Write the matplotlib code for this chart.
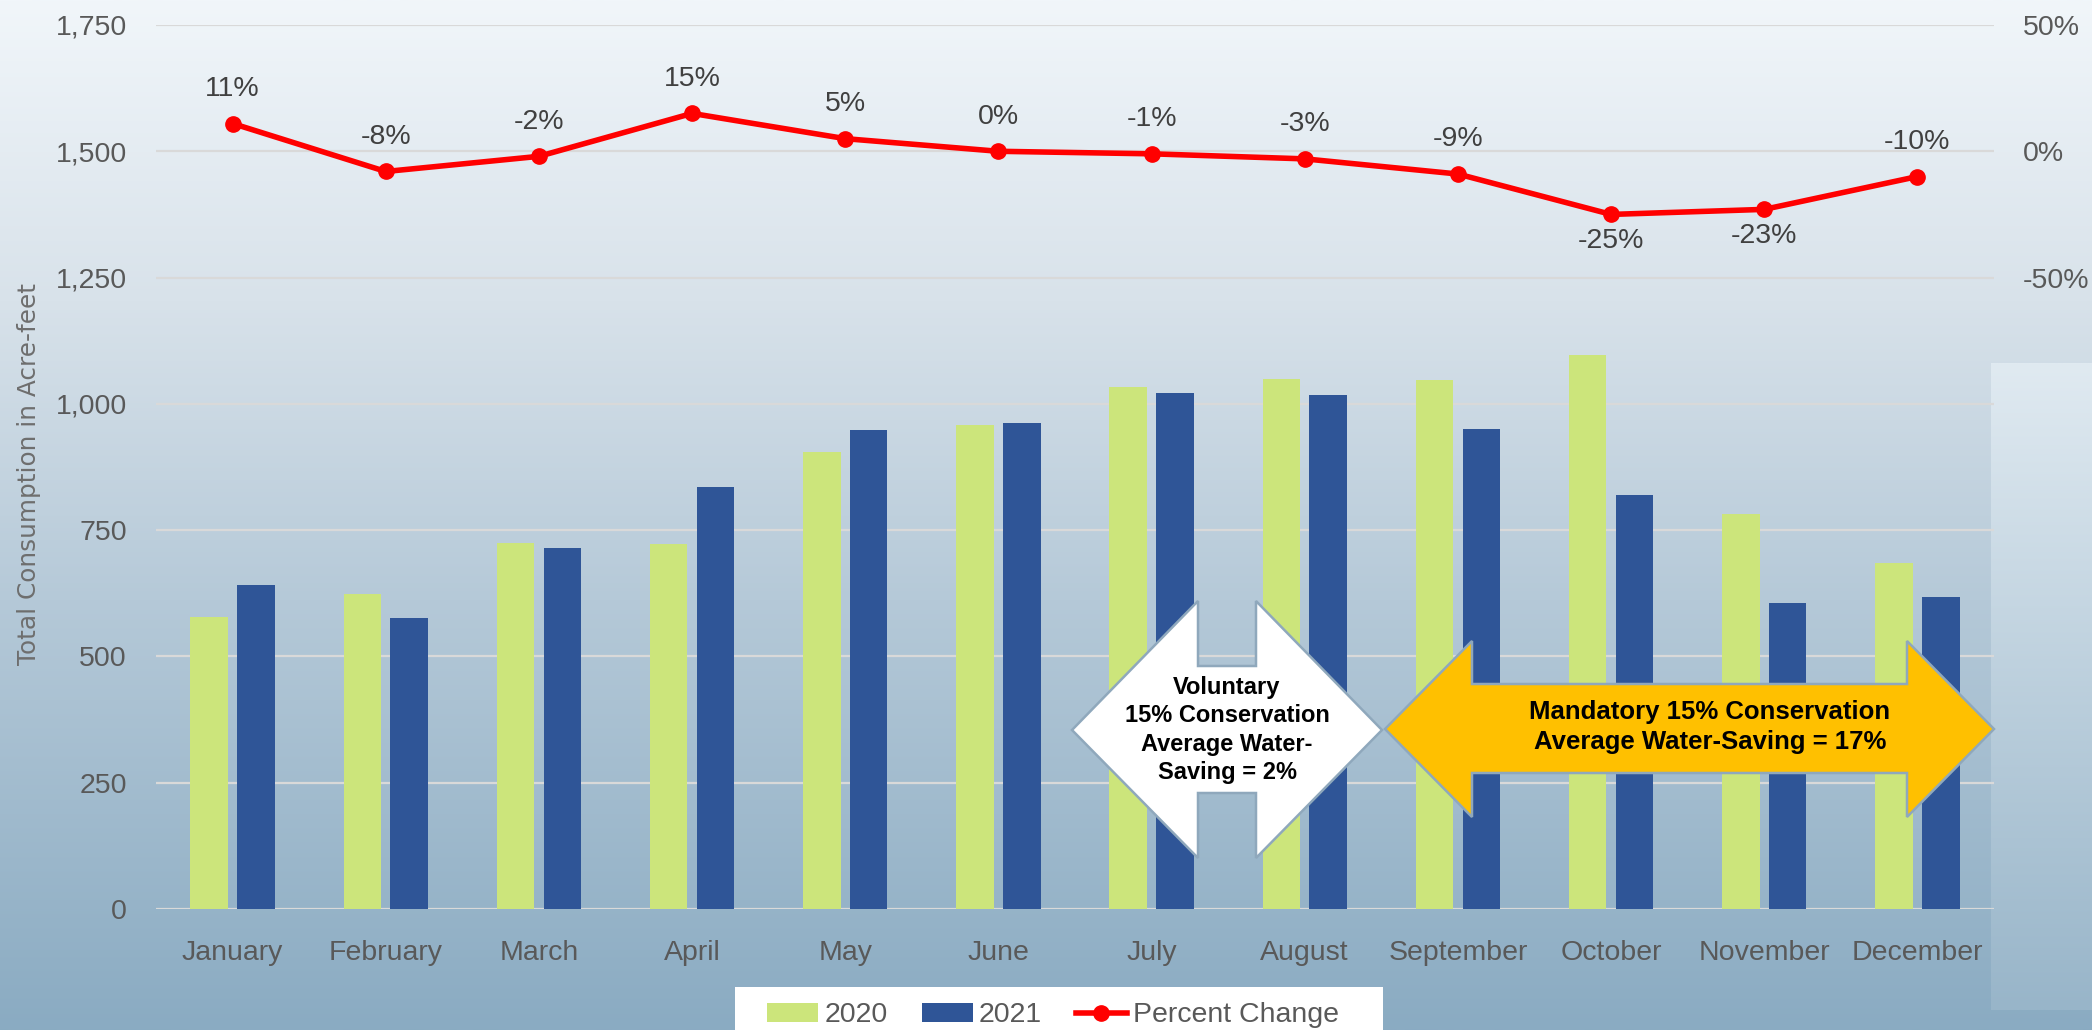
import numpy as np
import matplotlib
matplotlib.use("Agg")
import matplotlib.pyplot as plt
from matplotlib.patches import Polygon, Patch, Rectangle
from matplotlib.lines import Line2D
from matplotlib.colors import LinearSegmentedColormap

# ---------------- data ----------------
months = ["January", "February", "March", "April", "May", "June", "July",
          "August", "September", "October", "November", "December"]
use_2020 = [579, 624, 724, 722, 904, 959, 1033, 1049, 1047, 1097, 782, 684]
use_2021 = [642, 577, 714, 835, 949, 962, 1022, 1018, 951, 820, 605, 617]
pct_change = [11, -8, -2, 15, 5, 0, -1, -3, -9, -25, -23, -10]
left_ticks = [0, 250, 500, 750, 1000, 1250, 1500, 1750]
right_ticks = [-50, 0, 50]

W, H = 2092, 1030
DPI = 100
GREEN = "#CCE57B"
BLUE = "#2F5597"
RED = "#FF0000"
TICK_C = "#595959"
FONT = ["Liberation Sans", "DejaVu Sans"]

plt.rcParams["font.family"] = FONT

fig = plt.figure(figsize=(W / DPI, H / DPI), dpi=DPI)

# ---------------- background gradient ----------------
bg = fig.add_axes([0, 0, 1, 1], zorder=-10)
bg.axis("off")
stops_y = np.array([0, 300, 600, 1030]) / 1030
stops_c = np.array([(241, 246, 250), (216, 226, 234), (181, 201, 216), (138, 171, 194)]) / 255
cmap_bg = LinearSegmentedColormap.from_list("bg", list(zip(stops_y, stops_c)))
grad = np.linspace(0, 1, 512).reshape(-1, 1)
bg.imshow(grad, cmap=cmap_bg, aspect="auto", extent=(0, W, H, 0), interpolation="bicubic")
# lighter side panel on the right
cmap_panel = LinearSegmentedColormap.from_list(
    "panel", [(224 / 255, 234 / 255, 241 / 255), (152 / 255, 181 / 255, 201 / 255)])
bg.imshow(grad, cmap=cmap_panel, aspect="auto", extent=(1991, W, 1010, 363), interpolation="bicubic")
bg.set_xlim(0, W)
bg.set_ylim(H, 0)

# ---------------- main axes ----------------
L, R, T, B = 156, 1994, 25, 909
ax = fig.add_axes([L / W, 1 - B / H, (R - L) / W, (B - T) / H])
ax.set_facecolor("none")
x = np.arange(len(months))
bw = 0.245
off = 0.153
ax.bar(x - off, use_2020, width=bw, color=GREEN, zorder=2)
ax.bar(x + off, use_2021, width=bw, color=BLUE, zorder=2)
ax.set_xlim(-0.5, len(months) - 0.5)
ax.set_ylim(0, 1750)
ax.set_yticks(left_ticks)
ax.set_yticklabels([f"{v:,}" for v in left_ticks])
ax.set_xticks(x)
ax.set_xticklabels(months)
ax.yaxis.grid(True, color="#D9D9D9", lw=1.6, zorder=0)
ax.set_axisbelow(True)
for s in ax.spines.values():
    s.set_visible(False)
ax.tick_params(axis="y", length=0, pad=21, labelsize=20.5, labelcolor=TICK_C)
ax.tick_params(axis="x", length=0, pad=22, labelsize=20.5, labelcolor=TICK_C)

fig.text(29 / W, 1 - 474 / H, "Total Consumption in Acre-feet", rotation=90,
         ha="center", va="center", fontsize=17.8, color="#6E6E6E",
         family=["DejaVu Sans"])

# ---------------- percent change line ----------------
ax2 = ax.twinx()
ax2.set_facecolor("none")
ax2.set_ylim(-300, 50)
ax2.set_yticks(right_ticks)
ax2.set_yticklabels([f"{v}%" for v in right_ticks])
for s in ax2.spines.values():
    s.set_visible(False)
ax2.tick_params(axis="y", length=0, pad=21, labelsize=20.5, labelcolor=TICK_C)
ax2.plot(x, pct_change, color=RED, lw=4, marker="o", ms=11, zorder=5)
for xi, p in zip(x, pct_change):
    below = p <= -20
    ax2.annotate(f"{p}%", (xi, p), xytext=(0, -19 if below else 25),
                 textcoords="offset points", ha="center", va="center",
                 fontsize=20.5, color="#404040")


# ---------------- arrow shapes ----------------
def px(pts):
    return [(px_ / W, 1 - py_ / H) for px_, py_ in pts]


def lr_arrow(x0, x1, xb0, xb1, yc, head_t, head_b, shaft_t, shaft_b):
    return [(x0, yc), (xb0, head_t), (xb0, shaft_t), (xb1, shaft_t), (xb1, head_t),
            (x1, yc), (xb1, head_b), (xb1, shaft_b), (xb0, shaft_b), (xb0, head_b)]


white_pts = lr_arrow(1072, 1382, 1198, 1256, 730, 601, 858, 666, 793)
orange_pts = lr_arrow(1385, 1994, 1472, 1907, 729, 641, 817, 684, 773)
for pts, fc in [(white_pts, "white"), (orange_pts, "#FFC000")]:
    poly = Polygon(px(pts), closed=True, transform=fig.transFigure,
                   facecolor=fc, edgecolor="#8FA8BC", lw=1.8, zorder=20)
    fig.add_artist(poly)

fig.text(1227 / W, 1 - 730 / H,
         "Voluntary\n15% Conservation\nAverage Water-\nSaving = 2%",
         ha="center", va="center", fontsize=17, fontweight="bold", color="black",
         linespacing=1.3, zorder=21)
fig.text(1710 / W, 1 - 727 / H,
         "Mandatory 15% Conservation\nAverage Water-Saving = 17%",
         ha="center", va="center", fontsize=18.5, fontweight="bold", color="black",
         linespacing=1.35, zorder=21)

# ---------------- legend ----------------
fig.add_artist(Rectangle((735 / W, 0), (1383 - 735) / W, 1 - 987 / H,
                         transform=fig.transFigure, facecolor="white",
                         edgecolor="none", zorder=30))
handles = [Patch(facecolor=GREEN, edgecolor="none"),
           Patch(facecolor=BLUE, edgecolor="none"),
           Line2D([0], [0], color=RED, lw=4, marker="o", ms=11)]
leg = fig.legend(handles, ["2020", "2021", "Percent Change"], loc="upper center",
                 bbox_to_anchor=(1053 / W, 1 - 987 / H), ncol=3, frameon=False,
                 fontsize=20.5, handlelength=1.8, handleheight=0.63,
                 handletextpad=0.2, columnspacing=1.2, borderpad=0.54,
                 borderaxespad=0)
leg.set_zorder(31)
for t in leg.get_texts():
    t.set_color(TICK_C)

fig.savefig("out.png", dpi=DPI)
